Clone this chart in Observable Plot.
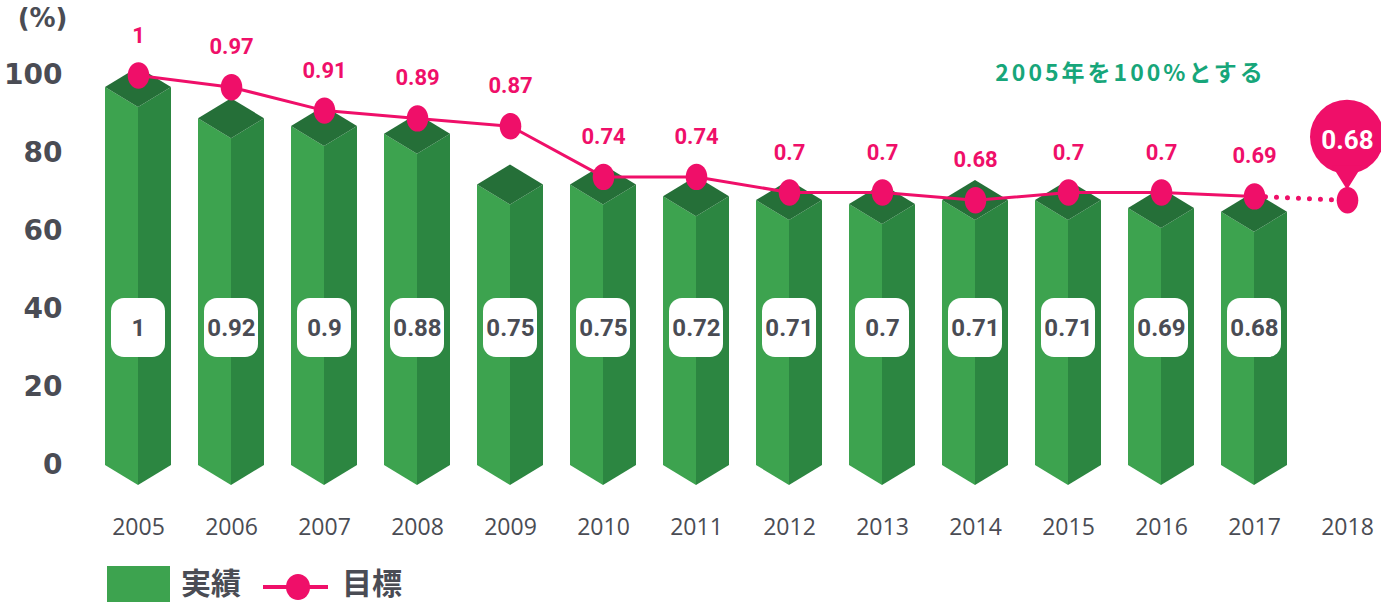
<!DOCTYPE html>
<html>
<head>
<meta charset="utf-8">
<script src="https://cdn.jsdelivr.net/npm/d3@7"></script>
<script src="https://cdn.jsdelivr.net/npm/@observablehq/plot@0.6"></script>
<style>
  body { margin: 0; background: #fff; }
  #chart { width: 1381px; }
  #legend { position: relative; width: 1381px; height: 47px; overflow: hidden;
            font-family: "Noto Sans CJK JP", sans-serif; font-weight: 700; color: #4a4c54; }
  #legend .sw { position: absolute; left: 107px; top: 11px; width: 63px; height: 40px; background: #3da34f; }
  #legend .lab { position: absolute; font-size: 30px; line-height: 1.1; top: 10px; }
  #legend svg { position: absolute; left: 262px; top: 18px; }
</style>
</head>
<body>
<div id="chart"></div>
<div id="legend">
  <div class="sw"></div>
  <span class="lab" style="left:181px">実績</span>
  <svg width="68" height="28"><line x1="1" x2="66" y1="14" y2="14" stroke="#ef0f69" stroke-width="4"/><ellipse cx="36" cy="14" rx="12" ry="13" fill="#ef0f69"/></svg>
  <span class="lab" style="left:342px">目標</span>
</div>
<script>
// ---- data ----
const years = ["2005","2006","2007","2008","2009","2010","2011","2012","2013","2014","2015","2016","2017","2018"];
const actual = [1, 0.92, 0.9, 0.88, 0.75, 0.75, 0.72, 0.71, 0.7, 0.71, 0.71, 0.69, 0.68]; // 実績 2005-2017
const target = [1, 0.97, 0.91, 0.89, 0.87, 0.74, 0.74, 0.7, 0.7, 0.68, 0.7, 0.7, 0.69, 0.68]; // 目標 2005-2018
const yTicks = [0, 20, 40, 60, 80, 100];
const yUnit = "(%)";
const note = "2005年を100%とする";

// ---- styles ----
const pink = "#ef0f69", gray = "#4a4c54", noteColor = "#17a67a";
const cLeft = "#3da34f", cRight = "#2c8641", cTop = "#256f38";

const actualRows = actual.map((v, i) => ({year: years[i], v}));
const targetRows = target.map((v, i) => ({year: years[i], v}));
const solidRows = targetRows.slice(0, 13);
const dottedRows = targetRows.slice(12);
const lastRow = targetRows[13];

const ellipse = {
  draw(ctx, size) {
    const r = Math.sqrt(size / Math.PI), rx = r * 0.9, ry = r * 1.1, k = 0.5523;
    ctx.moveTo(rx, 0);
    ctx.bezierCurveTo(rx, ry * k, rx * k, ry, 0, ry);
    ctx.bezierCurveTo(-rx * k, ry, -rx, ry * k, -rx, 0);
    ctx.bezierCurveTo(-rx, -ry * k, -rx * k, -ry, 0, -ry);
    ctx.bezierCurveTo(rx * k, -ry, rx, -ry * k, rx, 0);
    ctx.closePath();
  }
};

// 3D prism bars drawn through the x / y scales
function prisms(index, scales) {
  const {x, y} = scales;
  const g = d3.create("svg:g");
  const hw = 33, d = 20, shift = 12;
  for (const r of actualRows) {
    const xc = x(r.year), yt = y(r.v * 100) + shift, yb = y(0);
    g.append("path").attr("fill", cLeft)
      .attr("d", `M${xc - hw},${yt}L${xc},${yt + d}L${xc},${yb + d}L${xc - hw},${yb}Z`);
    g.append("path").attr("fill", cRight)
      .attr("d", `M${xc},${yt + d}L${xc + hw},${yt}L${xc + hw},${yb}L${xc},${yb + d}Z`);
    g.append("path").attr("fill", cTop)
      .attr("d", `M${xc - hw},${yt}L${xc},${yt - d}L${xc + hw},${yt}L${xc},${yt + d}Z`);
    g.append("rect").attr("x", xc - 27).attr("y", 298).attr("width", 54).attr("height", 59)
      .attr("rx", 13).attr("fill", "#fff");
  }
  return g.node();
}

// callout balloon for the 2018 target
function balloon(index, scales) {
  const {x, y} = scales;
  const xc = x(lastRow.year), yc = y(lastRow.v * 100);
  const cy = yc - 63, R = 37;
  const g = d3.create("svg:g").attr("fill", pink);
  g.append("circle").attr("cx", xc).attr("cy", cy).attr("r", R);
  g.append("path").attr("d", `M${xc - 15},${cy + R - 8}L${xc},${yc - 10}L${xc + 15},${cy + R - 8}Z`);
  return g.node();
}

const chart = Plot.plot({
  width: 1381,
  height: 555,
  marginLeft: 70, marginRight: 0, marginTop: 0, marginBottom: 0,
  x: {type: "point", domain: years, range: [134, 1350], padding: 0, axis: null},
  y: {domain: [0, 100], range: [465, 75], axis: null},
  style: {fontFamily: "Roboto, sans-serif", background: "#fff", overflow: "visible"},
  marks: [
    prisms,
    Plot.text(actualRows, {x: "year", text: d => String(d.v), frameAnchor: "top", lineAnchor: "middle", dy: 328,
      fill: gray, fontSize: 24, fontWeight: "bold"}),
    Plot.line(solidRows, {x: "year", y: d => d.v * 100, stroke: pink, strokeWidth: 3}),
    Plot.line(dottedRows, {x: "year", y: d => d.v * 100, stroke: pink, strokeWidth: 5,
      strokeDasharray: "0 11", strokeLinecap: "round"}),
    balloon,
    Plot.dot(targetRows, {x: "year", y: d => d.v * 100, r: 12, fill: pink, symbol: ellipse}),
    Plot.text(solidRows, {x: "year", y: d => d.v * 100, text: d => String(d.v), dy: -40,
      fill: pink, fontSize: 22, fontWeight: "bold"}),
    Plot.text([lastRow], {x: "year", y: d => d.v * 100, text: d => String(d.v), dy: -60,
      fill: "#fff", fontSize: 26, fontWeight: "bold"}),
    Plot.text(yTicks, {y: d => d, text: d => String(d), frameAnchor: "left", textAnchor: "end", dx: -8,
      fill: gray, fontSize: 28, fontWeight: "bold", fontFamily: "DejaVu Sans"}),
    Plot.text([yUnit], {frameAnchor: "top-left", textAnchor: "end", lineAnchor: "middle", dx: -3, dy: 18,
      fill: gray, fontSize: 26, fontWeight: "bold", fontFamily: "DejaVu Sans"}),
    Plot.text(years, {x: d => d, text: d => d, frameAnchor: "bottom", lineAnchor: "middle", dy: -28,
      fill: gray, fontSize: 23, fontFamily: "Open Sans"}),
    Plot.text([note], {frameAnchor: "top-left", textAnchor: "middle", lineAnchor: "middle", dx: 1060, dy: 73,
      fill: noteColor, fontSize: 23, fontWeight: "bold", fontFamily: "Noto Sans CJK JP"})
  ]
});

d3.select(chart).selectAll("text").filter(function() { return this.textContent === note; })
  .attr("letter-spacing", "3px");
d3.select(chart).selectAll("text").filter(function() { return this.textContent === String(lastRow.v) && this.getAttribute("fill") === "#fff"; })
  .attr("letter-spacing", "1.5px");

document.getElementById("chart").appendChild(chart);
</script>
</body>
</html>
